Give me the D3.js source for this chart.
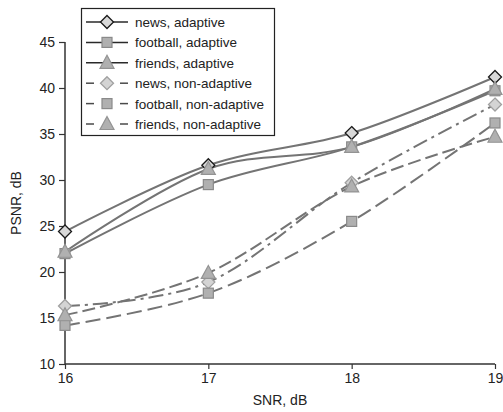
<!DOCTYPE html>
<html><head><meta charset="utf-8">
<script src="https://cdn.jsdelivr.net/npm/d3@7"></script>
<style>body{margin:0;background:#fff;}svg{display:block;font-family:"Liberation Sans",Arial,sans-serif;}</style>
</head><body><svg id="c" width="503" height="412"></svg>
<script>
const snr = [16, 17, 18, 19];
const yTicks = [10, 15, 20, 25, 30, 35, 40, 45];
const seriesNames = ["news, adaptive","football, adaptive","friends, adaptive","news, non-adaptive","football, non-adaptive","friends, non-adaptive"];
const newsAdaptive = [24.4, 31.6, 35.1, 41.2];
const footballAdaptive = [22.0, 29.5, 33.6, 39.7];
const friendsAdaptive = [22.2, 31.2, 33.6, 39.9];
const newsNonAdaptive = [16.3, 18.9, 29.7, 38.2];
const footballNonAdaptive = [14.2, 17.7, 25.5, 36.2];
const friendsNonAdaptive = [15.3, 19.9, 29.3, 34.7];
const seriesValues = [newsAdaptive, footballAdaptive, friendsAdaptive, newsNonAdaptive, footballNonAdaptive, friendsNonAdaptive];

const styles = [
  {shape:"diamond", fill:"#d8d8d8", stroke:"#1a1a1a", dash:null},
  {shape:"square", fill:"#b0b0b0", stroke:"#8a8a8a", dash:null},
  {shape:"triangle", fill:"#b0b0b0", stroke:"#939393", dash:null},
  {shape:"diamond", fill:"#d4d4d4", stroke:"#a0a0a0", dash:"15,5,3,5"},
  {shape:"square", fill:"#b0b0b0", stroke:"#8a8a8a", dash:"15,6"},
  {shape:"triangle", fill:"#b0b0b0", stroke:"#939393", dash:"13,5"}
];

const svg = d3.select("#c");
const x = d3.scaleLinear().domain([16,19]).range([65,495]);
const y = d3.scaleLinear().domain([10,45]).range([364,42]);

function marker(g, shape, cx, cy, st){
  if(shape==="diamond"){
    g.append("path").attr("d",`M${cx},${cy-6.5}L${cx+6.5},${cy}L${cx},${cy+6.5}L${cx-6.5},${cy}Z`)
     .attr("fill",st.fill).attr("stroke",st.stroke).attr("stroke-width",1.3);
  } else if(shape==="square"){
    g.append("rect").attr("x",cx-5).attr("y",cy-5).attr("width",10).attr("height",10)
     .attr("fill",st.fill).attr("stroke",st.stroke).attr("stroke-width",1.2);
  } else {
    g.append("path").attr("d",`M${cx},${cy-7.5}L${cx+7},${cy+5.5}L${cx-7},${cy+5.5}Z`)
     .attr("fill",st.fill).attr("stroke",st.stroke).attr("stroke-width",1.2);
  }
}

// axes
const yAxis = d3.axisLeft(y).tickValues(yTicks).tickSize(6).tickPadding(4);
const gy = svg.append("g").attr("transform","translate(65,0)").call(yAxis);
const xAxis = d3.axisBottom(x).tickValues(snr).tickFormat(d3.format("d")).tickSize(5).tickPadding(4);
const gx = svg.append("g").attr("transform","translate(0,364)").call(xAxis);
[gx,gy].forEach(g=>{
  g.select(".domain").attr("stroke","#333").attr("stroke-width",1.5);
  g.selectAll(".tick line").attr("stroke","#333").attr("stroke-width",1.2);
  g.selectAll(".tick text").attr("fill","#222").style("font-size","14px").style("font-family","'Liberation Sans',Arial,sans-serif");
});
gy.select(".domain").attr("d","M0,42V364");
gx.select(".domain").attr("d","M65,0H495");

// lines
const line = d3.line().x((d,i)=>x(snr[i])).y(d=>y(d)).curve(d3.curveCatmullRom.alpha(0));
seriesValues.forEach((vals,k)=>{
  const st = styles[k];
  svg.append("path").datum(vals).attr("d",line).attr("fill","none")
    .attr("stroke","#747474").attr("stroke-width",2)
    .attr("stroke-dasharray",st.dash);
});
// markers (non-adaptive first, adaptive on top)
[3,4,5,0,1,2].forEach(k=>{
  const g = svg.append("g");
  seriesValues[k].forEach((v,i)=>marker(g, styles[k].shape, x(snr[i]), y(v), styles[k]));
});

// legend
const lg = svg.append("g");
lg.append("rect").attr("x",81.5).attr("y",8.5).attr("width",193).attr("height",127)
  .attr("fill","#fff").attr("stroke","#222").attr("stroke-width",1.2);
seriesNames.forEach((name,k)=>{
  const st = styles[k];
  const ly = 22 + k*20.4;
  if(st.dash){
    lg.append("line").attr("x1",86).attr("x2",94).attr("y1",ly).attr("y2",ly).attr("stroke","#4a4a4a").attr("stroke-width",1.5);
    lg.append("line").attr("x1",120).attr("x2",128).attr("y1",ly).attr("y2",ly).attr("stroke","#4a4a4a").attr("stroke-width",1.5);
  } else {
    lg.append("line").attr("x1",86).attr("x2",128).attr("y1",ly).attr("y2",ly).attr("stroke","#2a2a2a").attr("stroke-width",1.5);
  }
  marker(lg, st.shape, 107, ly, st);
  lg.append("text").attr("x",135).attr("y",ly+5).attr("fill","#222").style("font-size","13.5px").text(name);
});

// axis titles
svg.append("text").attr("x",280).attr("y",405).attr("text-anchor","middle").attr("fill","#222").style("font-size","14px").text("SNR, dB");
svg.append("text").attr("transform","translate(21,203) rotate(-90)").attr("text-anchor","middle").attr("fill","#222").style("font-size","14px").text("PSNR, dB");
</script></body></html>
